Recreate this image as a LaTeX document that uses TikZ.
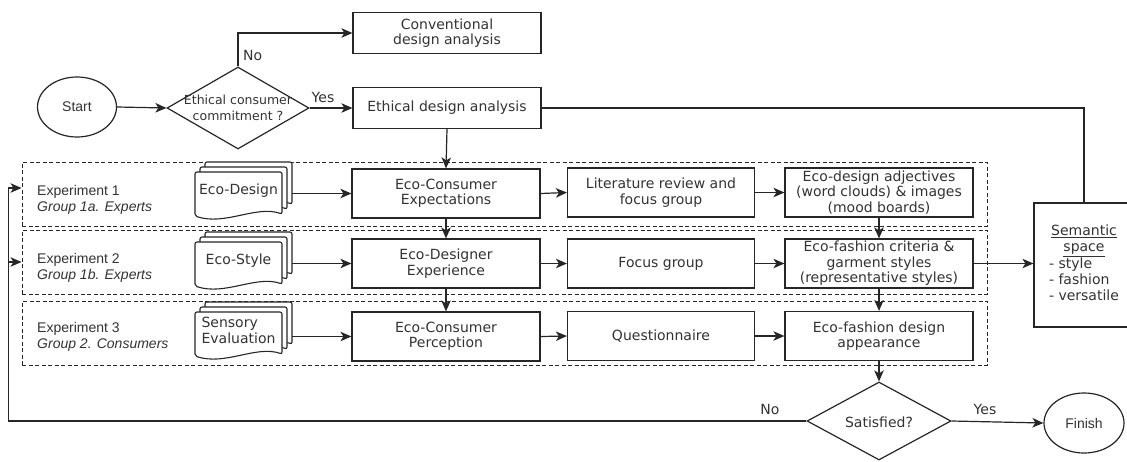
\documentclass[tikz,border=0pt]{standalone}
\usepackage{fontspec}
\setmainfont{DejaVu Sans}
\newfontfamily\arialf{Liberation Sans}
\usetikzlibrary{arrows.meta,shapes.geometric,calc}
\definecolor{lc}{HTML}{262626}
\definecolor{tc}{HTML}{333333}
\newcommand{\docstack}[4]{%
  \foreach \dso/\dsu in {10/10,5/5,0/0}{%
    \filldraw[docsheet] ({195+\dso},{#2-\dsu}) -- ({282+\dso},{#2-\dsu}) -- ({282+\dso},{#2+42-\dsu})
      .. controls ({256+\dso},{#2+33-\dsu}) and ({225+\dso},{#2+54-\dsu}) .. ({195+\dso},{#2+44-\dsu}) -- cycle;
  }
  \node[doctext] (#1) at (238.5,{#2+18.5}) {#3};
  \coordinate (#1e) at (292,#4);
}
\tikzset{
  boxn/.style={draw=lc, line width=1.2pt, fill=white, minimum width=188pt, minimum height=49pt,
    align=center, inner sep=0pt, text=tc, font=\fontsize{14}{15.5}\selectfont},
  termn/.style={ellipse, draw=lc, line width=1.2pt, fill=white, inner sep=0pt, text=tc,
    font=\arialf\fontsize{14}{15}\selectfont},
  decn/.style={diamond, draw=lc, line width=1.2pt, fill=white, inner sep=0pt},
  dectext/.style={align=center, inner sep=0pt, text=tc},
  docsheet/.style={fill=white, draw=lc, line width=1.1pt, rounded corners=2pt},
  doctext/.style={align=left, inner sep=0pt, text=tc, font=\fontsize{14}{15.5}\selectfont},
  groupbox/.style={draw=lc, line width=1pt, dash pattern=on 4pt off 2.5pt, minimum width=965pt,
    minimum height=64pt, inner sep=0pt},
  explab/.style={anchor=west, align=left, inner sep=0pt, text=tc, font=\arialf\fontsize{14}{16}\selectfont},
  lab/.style={inner sep=0pt, text=tc, font=\fontsize{14}{15}\selectfont},
  arr/.style={draw=lc, line width=1.2pt, -{Stealth[length=11pt,width=9.5pt,inset=3pt]}},
  lin/.style={draw=lc, line width=1.2pt},
}
\begin{document}
\begin{tikzpicture}[x=1pt,y=-1pt]
\useasboundingbox (0,0) rectangle (1127,461);
\fill[white] (0,0) rectangle (1127,461);

% group boxes
\node[groupbox] (g1) at (504.5,194) {};
\node[groupbox] (g2) at (504.5,262) {};
\node[groupbox] (g3) at (504.5,333) {};

\node[explab] (e1) at (37,200) {Experiment 1\\\textit{Group 1a. Experts}};
\node[explab] (e2) at (37,268) {Experiment 2\\\textit{Group 1b. Experts}};
\node[explab] (e3) at (37,337) {Experiment 3\\\textit{Group 2. Consumers}};

% top part
\node[termn, minimum width=79pt, minimum height=60pt] (start) at (77,107) {Start};
\node[decn, minimum width=142pt, minimum height=82pt] (q1) at (238,108) {};
\node[dectext, font=\fontsize{12.5}{16}\selectfont] (q1t) at (238,108) {Ethical consumer\\commitment ?};
\node[boxn, minimum height=41pt] (conv) at (447,33) {Conventional\\design analysis};
\node[boxn, minimum height=41pt] (eth) at (447,108) {Ethical design analysis};

% rows
\node[boxn] (expc) at (446,193.5) {Eco-Consumer\\Expectations};
\node[boxn, minimum width=187pt] (lit) at (661,192.5) {Literature review and\\focus group};
\node[boxn] (adj) at (879,192.5) {Eco-design adjectives\\(word clouds) \& images\\(mood boards)};

\node[boxn] (des) at (446,263.5) {Eco-Designer\\Experience};
\node[boxn, minimum width=187pt] (foc) at (661,263.5) {Focus group};
\node[boxn] (cri) at (879,263.5) {Eco-fashion criteria \&\\garment styles\\(representative styles)};

\node[boxn] (per) at (446,336.5) {Eco-Consumer\\Perception};
\node[boxn, minimum width=187pt] (que) at (661,336) {Questionnaire};
\node[boxn] (app) at (879,336) {Eco-fashion design\\appearance};

\docstack{d1}{172}{Eco-Design}{193}
\docstack{d2}{242}{Eco-Style}{263}
\docstack{d3}{312}{Sensory\\Evaluation}{336}

% bottom
\node[decn, minimum width=144pt, minimum height=78pt] (sat) at (879,421) {};
\node[dectext, font=\fontsize{14}{15}\selectfont] (satt) at (879,422) {Satisfied?};
\node[termn, minimum width=80pt, minimum height=60pt] (fin) at (1084,423) {Finish};

% semantic space
\node[draw=lc, line width=1.2pt, fill=white, minimum width=100pt, minimum height=124pt, inner sep=0pt,
  text=tc, font=\fontsize{14}{16.3}\selectfont] (sem) at (1084,265)
  {\begin{tabular}{@{}l@{}}\multicolumn{1}{@{}c@{}}{\underline{Semantic}}\\
   \multicolumn{1}{@{}c@{}}{\underline{space}}\\- style\\- fashion\\- versatile\end{tabular}};

% connectors
\draw[arr] (start.east) -- (q1.west);
\draw[arr] (q1.north) |- (conv.west);
\node[lab, anchor=west] (lno) at (243,55) {No};
\draw[arr] (q1.east) -- (eth.west);
\node[lab] (lyes) at (323,97) {Yes};
\draw[lin] (eth.east) -| (sem.north);
\draw[arr] (eth.south) -- (expc.north);

\draw[arr] (d1e |- expc.west) -- (expc.west);
\draw[arr] (expc.east) -- (lit.west);
\draw[arr] (lit.east) -- (adj.west);
\draw[arr] (d2e |- des.west) -- (des.west);
\draw[arr] (des.east) -- (foc.west);
\draw[arr] (foc.east) -- (cri.west);
\draw[arr] (d3e |- per.west) -- (per.west);
\draw[arr] (per.east) -- (que.west);
\draw[arr] (que.east) -- (app.west);

\draw[arr] (expc.south) -- (des.north);
\draw[arr] (des.south) -- (per.north);
\draw[arr] (adj.south) -- (cri.north);
\draw[arr] (cri.south) -- (app.north);
\draw[arr] (app.south) -- (sat.north);
\draw[arr] (cri.east) -- (cri.east -| sem.west);

\coordinate (lb) at (8.6,423);
\draw[arr] (sat.west) -- (sat.west -| lb) |- ([yshift=6pt]g1.west);
\draw[arr] (lb |- g2.west) -- (g2.west);
\node[lab] (sno) at (770,409) {No};
\draw[arr] (sat.east) -- (fin.west);
\node[lab] (syes) at (985,409) {Yes};
\end{tikzpicture}
\end{document}
